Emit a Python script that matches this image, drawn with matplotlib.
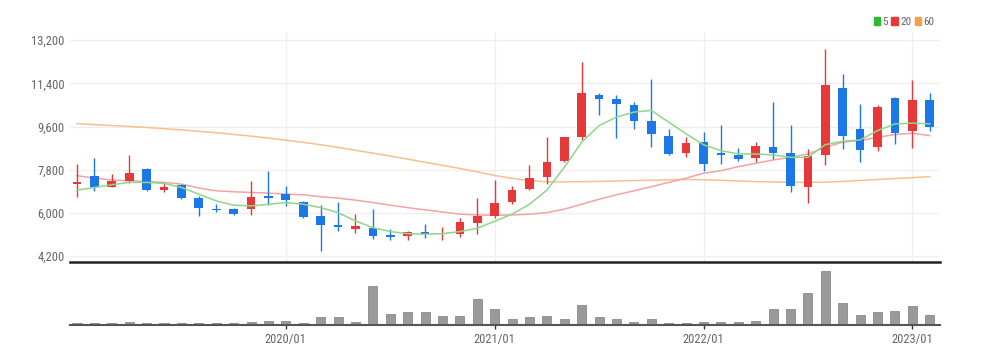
import numpy as np
import matplotlib.pyplot as plt
from matplotlib.patches import Patch

# monthly candles 2019/01 .. 2023/02
opens = [7200, 7520, 7090, 7340, 7830, 6960, 7160, 6600, 6170, 6150,
         6150, 6700, 6780, 6460, 5870, 5500, 5330, 5360, 5090, 5050,
         5200, 5100, 5110, 5595, 5860, 6470, 6990, 7510, 8150, 9150,
         10900, 10745, 10510, 9810, 9220, 8480, 8945, 8500, 8415, 8290,
         8735, 8500, 7090, 8430, 11220, 9505, 8765, 10785, 9430, 10690]
highs = [8050, 8270, 7620, 8420, 7850, 7230, 7200, 6710, 6390, 6200,
         7340, 7730, 7100, 6480, 6340, 6470, 5970, 6180, 5320, 5260,
         5530, 5410, 5780, 6600, 7380, 7130, 8010, 9180, 9160, 12290,
         11000, 10900, 10620, 11560, 9480, 9180, 9360, 9670, 8710, 8945,
         10620, 9670, 8670, 12810, 11770, 10550, 10510, 10830, 11525, 11000]
lows = [6680, 6920, 7060, 7230, 6930, 6850, 6580, 5870, 6040, 5920,
        5920, 6340, 6290, 5800, 4410, 5250, 5180, 4900, 4860, 4860,
        4970, 4880, 5000, 5140, 5800, 6360, 6950, 7200, 8100, 9050,
        10100, 9130, 9500, 8740, 8400, 8320, 7760, 8040, 8180, 8110,
        8250, 6850, 6430, 8010, 8670, 8110, 8570, 8875, 8710, 9400]
closes = [7280, 7090, 7340, 7660, 6950, 7090, 6620, 6220, 6110, 5950,
          6670, 6600, 6530, 5830, 5500, 5400, 5440, 5040, 5000, 5200,
          5130, 5170, 5640, 5860, 6430, 6950, 7450, 8110, 9150, 11000,
          10760, 10520, 9820, 9290, 8460, 8920, 8040, 8430, 8250, 8805,
          8500, 7130, 8360, 11345, 9220, 8640, 10410, 9350, 10690, 9570]

ma5 = [6950, 7060, 7170, 7270, 7270, 7230, 7060, 6780, 6500, 6320,
       6290, 6360, 6430, 6360, 6220, 6010, 5665, 5385, 5220, 5135,
       5110, 5135, 5220, 5360, 5650, 5945, 6360, 6950, 7895, 8945,
       9640, 9990, 10200, 10270, 9780, 9295, 8840, 8595, 8455, 8455,
       8415, 8315, 8315, 8845, 8985, 9040, 9430, 9710, 9740, 9710]
ma20 = [7550, 7450, 7370, 7340, 7310, 7270, 7200, 7035, 6920, 6880,
        6850, 6825, 6780, 6755, 6670, 6615, 6530, 6430, 6320, 6220,
        6125, 6040, 5945, 5915, 5900, 5915, 5945, 6010, 6155, 6360,
        6570, 6755, 6920, 7090, 7270, 7450, 7650, 7760, 7925, 8065,
        8205, 8315, 8455, 8735, 8945, 9015, 9150, 9265, 9320, 9220]
ma60 = [9720, 9680, 9640, 9600, 9560, 9510, 9460, 9400, 9340, 9270,
        9200, 9120, 9030, 8940, 8840, 8730, 8610, 8490, 8370, 8240,
        8110, 7980, 7850, 7710, 7560, 7440, 7340, 7300, 7290, 7300,
        7310, 7330, 7350, 7360, 7380, 7390, 7380, 7360, 7330, 7300,
        7290, 7270, 7270, 7280, 7310, 7350, 7390, 7430, 7470, 7510]

volume = [2.2, 2.2, 2, 2.7, 2, 2, 2, 2, 2, 2,
          2.7, 4.3, 4, 2.3, 8, 7.7, 2.7, 39.3, 11, 12.7,
          12.7, 9.3, 9.3, 26, 16, 6, 7.7, 9.3, 6, 20.3,
          7.7, 6, 2.7, 5.7, 2.2, 2.2, 2.7, 2.7, 2.7, 4.3,
          16, 16, 32, 54.3, 22, 10.3, 12.7, 13.7, 18.7, 10.3]

tick_pos = [12, 24, 36, 48]
tick_labels = ['2020/01', '2021/01', '2022/01', '2023/01']
price_ticks = [4200, 6000, 7800, 9600, 11400, 13200]

up_col = '#e8393a'
down_col = '#1c78e6'

plt.rcParams['font.family'] = ['DejaVu Sans Condensed', 'Roboto Condensed',
                               'Liberation Sans Narrow', 'Roboto', 'DejaVu Sans']
plt.rcParams['font.stretch'] = 'condensed'

fig = plt.figure(figsize=(9.81, 3.58), dpi=100)
ax = fig.add_axes([0.0714, 0.268, 0.887, 0.642])
axv = fig.add_axes([0.0714, 0.092, 0.887, 0.168])

x = np.arange(len(opens))
o = np.array(opens)
c = np.array(closes)
cols = [up_col if cc >= oo else down_col for oo, cc in zip(o, c)]

ax.vlines(x, lows, highs, colors=cols, linewidth=1, zorder=3)
body = np.maximum(np.abs(c - o), 60)
ax.bar(x, body, bottom=np.minimum(o, c), width=0.5, color=cols, zorder=4)

ax.plot(x, ma60, color='#f7c08f', lw=1.1, zorder=2)
ax.plot(x, ma20, color='#f4a3a6', lw=1.1, zorder=2)
ax.plot(x, ma5, color='#8fd68a', lw=1.1, zorder=5)

ax.set_xlim(-0.4, 49.6)
ax.set_ylim(3950, 13530)
ax.set_yticks(price_ticks)
ax.set_yticklabels([f'{v:,}' for v in price_ticks])
ax.set_xticks(tick_pos)
ax.tick_params(axis='x', length=0, labelbottom=False)
ax.tick_params(axis='y', length=0, labelsize=9, colors='#666666', pad=4)
ax.grid(True, color='#efefef', lw=0.9)
ax.set_axisbelow(True)
for s in ['top', 'right', 'left']:
    ax.spines[s].set_visible(False)
ax.spines['bottom'].set_color('#222222')
ax.spines['bottom'].set_linewidth(1.8)

ax.legend(handles=[Patch(color='#2dbb2d', label='5'),
                   Patch(color='#e8393a', label='20'),
                   Patch(color='#f5a04a', label='60')],
          loc='lower right', bbox_to_anchor=(1.0, 1.0), ncol=3, frameon=False,
          fontsize=8, handlelength=0.6, handleheight=0.8, handletextpad=0.2,
          columnspacing=0.3, labelcolor='#666666', borderaxespad=0.1)

axv.bar(x, volume, width=0.52, color='#9a9a9a', edgecolor='#8a8a8a', lw=0.6)
axv.set_xlim(-0.4, 49.6)
axv.set_ylim(0, 60)
axv.set_yticks([])
axv.set_xticks(tick_pos)
axv.set_xticklabels(tick_labels)
axv.tick_params(axis='x', length=3, width=1, color='#333333', labelsize=9,
                labelcolor='#666666', pad=3)
for s in ['top', 'right', 'left']:
    axv.spines[s].set_visible(False)
axv.spines['bottom'].set_color('#555555')
axv.spines['bottom'].set_linewidth(1.5)

fig.savefig('out.png', dpi=100)
